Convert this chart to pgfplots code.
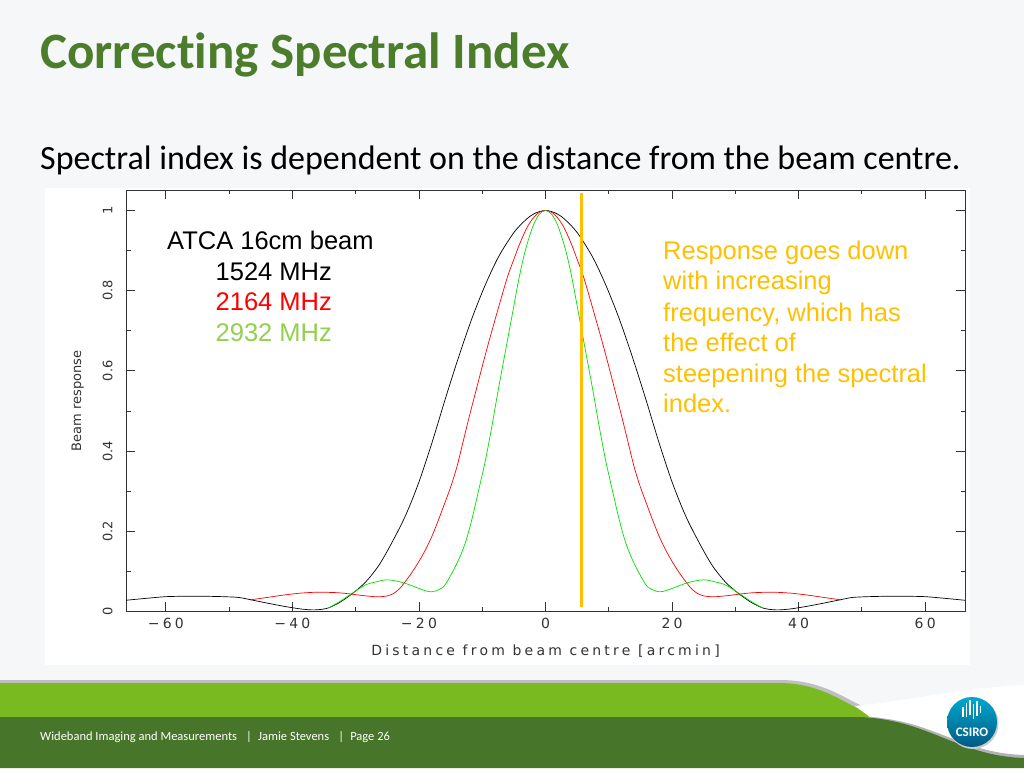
\documentclass[border=0pt]{standalone}
\usepackage{fontspec}
\usepackage{pgfplots}
\pgfplotsset{compat=1.18}
\setmainfont{Liberation Sans}
\newfontfamily\carlito{Carlito}[Ligatures=NoCommon]
\newfontfamily\pgfont{DejaVu Sans}
\newfontfamily\pgfontw{DejaVu Sans}[LetterSpace=23]
\definecolor{slidebg}{HTML}{F5F7F9}
\definecolor{titlegreen}{HTML}{4C7D2A}
\definecolor{darkgreen}{HTML}{47752A}
\definecolor{lightgreen}{HTML}{79BA21}
\definecolor{gold}{HTML}{FFC000}
\definecolor{lgreen}{HTML}{92D050}
\definecolor{plotgreen}{HTML}{00E000}
\definecolor{csirotop}{HTML}{00A9CE}
\definecolor{csirobot}{HTML}{005A84}
\begin{document}
\begin{tikzpicture}[x=1pt,y=1pt]
% slide background and plot image area
\fill[slidebg] (0,0) rectangle (1024,768);
\useasboundingbox (0,0) rectangle (1024,768);
\fill[white] (45,103) rectangle (970,580);

% title and subtitle
\node[anchor=base west, inner sep=0, text=titlegreen,
  font=\carlito\bfseries\fontsize{51}{60}\selectfont] at (40,699.5) {Correcting Spectral Index};
\node[anchor=base west, inner sep=0,
  font=\carlito\fontsize{34}{40}\selectfont] at (40,598) {Spectral index is dependent on the distance from the beam centre.};

\begin{axis}[
    at={(126pt,156.5pt)}, anchor=south west,
    scale only axis, width=839pt, height=421.5pt,
    xmin=-66.3, xmax=66.3, ymin=0, ymax=1.051,
    axis line style={black!80, line width=0.8pt},
    tick align=inside,
    major tick length=9pt, minor tick length=4.5pt,
    every tick/.style={black!80, line width=0.8pt},
    xtick={-60,-40,-20,0,20,40,60},
    minor xtick={-50,-30,-10,10,30,50},
    xticklabels={−60,−40,−20,0,20,40,60},
    ytick={0,0.2,0.4,0.6,0.8,1},
    minor ytick={0.1,0.3,0.5,0.7,0.9},
    yticklabels={0,0.2,0.4,0.6,0.8,1},
    xticklabel style={font=\pgfontw\fontsize{14}{16}\selectfont, text=black!80},
    yticklabel style={font=\pgfont\fontsize{13}{15}\selectfont, text=black!80, rotate=90, anchor=south},
    xticklabel shift=3pt, yticklabel shift=10pt,
    xlabel={Distance from beam centre [arcmin]},
    ylabel={Beam response},
    xlabel style={font=\pgfontw\fontsize{14}{16}\selectfont, text=black!80,
      at={([yshift=-43.5pt]axis description cs:0.5,0)}, anchor=base},
    ylabel style={font=\pgfont\fontsize{13}{15}\selectfont, text=black!80,
      at={([xshift=-45pt]axis description cs:0,0.5)}, anchor=base},
]
% 1524 MHz
\addplot[black, line width=0.7pt, smooth] coordinates {
 (-66.3,0.028) (-63,0.033) (-60,0.037) (-57,0.038) (-54,0.038) (-51,0.037)
 (-48.5,0.035) (-46.5,0.029) (-44,0.021) (-41,0.012) (-38.5,0.006) (-36.5,0.004)
 (-34.5,0.008) (-32.6,0.022) (-30.5,0.045) (-28.4,0.074) (-26.3,0.116) (-24.2,0.174)
 (-22.1,0.240) (-20,0.323) (-17.9,0.423) (-15.8,0.532) (-13.7,0.636) (-11.6,0.732)
 (-9.5,0.815) (-7.4,0.885) (-5,0.945) (-3.1,0.977) (-2,0.99) (-1,0.997) (0,1)
 (1,0.997) (2,0.99) (3.1,0.977) (5,0.945) (7.4,0.885) (9.5,0.815) (11.6,0.732)
 (13.7,0.636) (15.8,0.532) (17.9,0.423) (20,0.323) (22.1,0.240) (24.2,0.174)
 (26.3,0.116) (28.4,0.074) (30.5,0.045) (32.6,0.022) (34.5,0.008) (36.5,0.004)
 (38.5,0.006) (41,0.012) (44,0.021) (46.5,0.029) (48.5,0.035) (51,0.037)
 (54,0.038) (57,0.038) (60,0.037) (63,0.033) (66.3,0.028)
};
% 2164 MHz
\addplot[red, line width=0.7pt, smooth] coordinates {
 (-46.7,0.029) (-44,0.035) (-41.4,0.041) (-38.6,0.046) (-36,0.048) (-33,0.047)
 (-31,0.044) (-29,0.040) (-27,0.037) (-26,0.037) (-25,0.039) (-24,0.045)
 (-23,0.058) (-22,0.078) (-21,0.100) (-20,0.125) (-19,0.153) (-18,0.186)
 (-17,0.225) (-16,0.267) (-15,0.310) (-14,0.361) (-13,0.425) (-12,0.489)
 (-11,0.550) (-10,0.611) (-9,0.670) (-7.5,0.754) (-6,0.835) (-5,0.878)
 (-4.15,0.914) (-3,0.955) (-2,0.98) (-1,0.995) (0,1)
 (1,0.995) (2,0.98) (3,0.955) (4.15,0.914) (5,0.878) (6,0.835) (7.5,0.754)
 (9,0.670) (10,0.611) (11,0.550) (12,0.489) (13,0.425) (14,0.361) (15,0.310)
 (16,0.267) (17,0.225) (18,0.186) (19,0.153) (20,0.125) (21,0.100) (22,0.078)
 (23,0.058) (24,0.045) (25,0.039) (26,0.037) (27,0.037) (29,0.040) (31,0.044)
 (33,0.047) (36,0.048) (38.6,0.046) (41.4,0.041) (44,0.035) (46.7,0.029)
};
% 2932 MHz
\addplot[plotgreen, line width=0.7pt, smooth] coordinates {
 (-34.3,0.009) (-32.5,0.025) (-30.8,0.043) (-28.5,0.066) (-27,0.073) (-25,0.079)
 (-22.5,0.072) (-20.1,0.058) (-19,0.052) (-18,0.049) (-16.8,0.055) (-15.8,0.068)
 (-14,0.12) (-12.7,0.17) (-11.6,0.232) (-10.6,0.30) (-9.5,0.377) (-8.5,0.46)
 (-7.5,0.55) (-6.5,0.635) (-5.2,0.745) (-4.2,0.83) (-3.2,0.90) (-2,0.96)
 (-1,0.99) (0,1)
 (1,0.99) (2,0.96) (3.2,0.90) (4.2,0.83) (5.2,0.745) (6.5,0.635) (7.5,0.55)
 (8.5,0.46) (9.5,0.377) (10.6,0.30) (11.6,0.232) (12.7,0.17) (14,0.12)
 (15.8,0.068) (16.8,0.055) (18,0.049) (19,0.052) (20.1,0.058) (22.5,0.072)
 (25,0.079) (27,0.073) (28.5,0.066) (30.8,0.043) (32.5,0.025) (34.3,0.009)
};
% marker line
\addplot[gold, line width=2.6pt] coordinates {(5.7,0.011) (5.7,1.044)};
\end{axis}

% legend text
\node[anchor=base west, inner sep=0, font=\fontsize{25.5}{30}\selectfont] at (167,518) {ATCA 16cm beam};
\node[anchor=base west, inner sep=0, font=\fontsize{25.5}{30}\selectfont] at (215.5,487.3) {1524 MHz};
\node[anchor=base west, inner sep=0, font=\fontsize{25.5}{30}\selectfont, text=red] at (215.5,457.3) {2164 MHz};
\node[anchor=base west, inner sep=0, font=\fontsize{25.5}{30}\selectfont, text=lgreen] at (215.5,426.3) {2932 MHz};

% annotation
\begin{scope}[every node/.style={anchor=base west, inner sep=0, text=gold, font=\fontsize{25.5}{30}\selectfont}]
\node at (663,508) {Response goes down};
\node at (663,478) {with increasing};
\node at (663,446.3) {frequency, which has};
\node at (663,416.3) {the effect of};
\node at (663,385) {steepening the spectral};
\node at (663,355) {index.};
\end{scope}

% footer
\fill[black!25] (0,88) -- (780,88) .. controls (835,88) and (855,57) .. (892,52) -- (892,50) -- (0,50) -- cycle;
\fill[lightgreen] (0,85) -- (778,85) .. controls (832,85) and (850,55) .. (886,51) -- (0,51) -- cycle;
\fill[white] (855,62) .. controls (900,66) and (960,80) .. (1024,83) -- (1024,11) .. controls (960,14) and (930,48) .. (870,51) -- cycle;
\fill[black!30] (0,51) -- (862,51) .. controls (932,50) and (958,15) .. (1024,13) -- (1024,8) -- (0,8) -- cycle;
\fill[darkgreen] (0,51) -- (860,51) .. controls (930,48) and (958,12) .. (1024,10) -- (1024,0) -- (0,0) -- cycle;
\node[anchor=base west, inner sep=0, text=white, font=\carlito\fontsize{12.5}{15}\selectfont] at (40,28)
  {Wideband Imaging and Measurements \enspace|\enspace Jamie Stevens \enspace|\enspace Page 26};

% CSIRO logo
\fill[black!20] (973,44.5) circle (25.5);
\shade[top color=csirotop, bottom color=csirobot] (972,46) circle (25);
\begin{scope}[white, line width=1.8pt]
\draw (963,51) -- (963,61);
\draw (966.5,51) -- (966.5,65);
\draw (970,53) -- (970,68);
\draw (973.5,49) -- (973.5,64);
\draw (977,52) -- (977,67);
\draw (980.5,55) -- (980.5,62);
\end{scope}
\node[text=white, inner sep=0, font=\carlito\bfseries\fontsize{13}{15}\selectfont] at (972,36) {CSIRO};
\end{tikzpicture}
\end{document}
